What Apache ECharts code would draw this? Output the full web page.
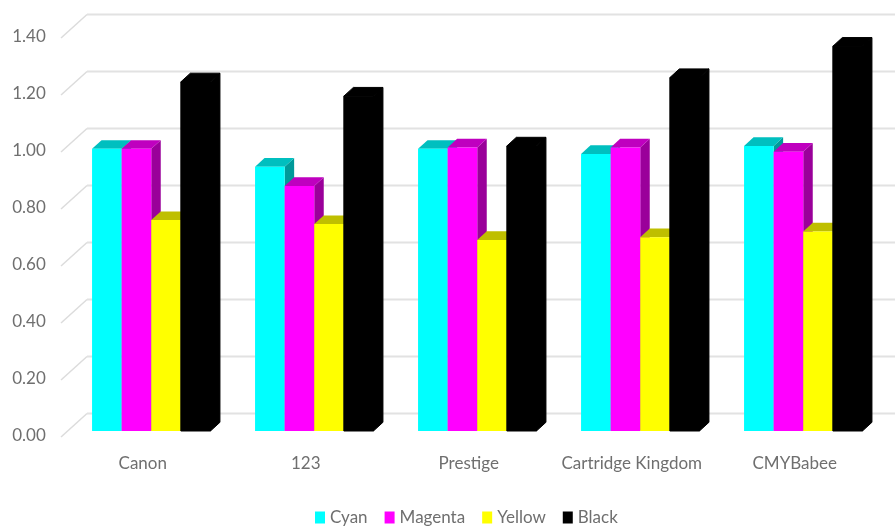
<!DOCTYPE html>
<html>
<head>
<meta charset="utf-8">
<style>html,body{margin:0;padding:0;background:#fff}#c{width:895px;height:526px;filter:blur(0.5px)}</style>
<script src="https://cdn.jsdelivr.net/npm/echarts@6/dist/echarts.min.js"></script>
</head>
<body>
<div id="c"></div>
<script>
var categories = ['Canon', '123', 'Prestige', 'Cartridge Kingdom', 'CMYBabee'];
var cyan = [0.99, 0.927, 0.99, 0.972, 1.0];
var magenta = [0.99, 0.86, 0.995, 0.995, 0.98];
var yellow = [0.74, 0.726, 0.67, 0.68, 0.70];
var black = [1.225, 1.175, 1.0, 1.24, 1.35];
var ticks = [0, 0.2, 0.4, 0.6, 0.8, 1.0, 1.2, 1.4];

var FONT = 'Lato';
var TEXT = '#6f6f6f';
var BAR_W = 29.6, DX = 9.5, DY = 8.7;

function poly(points, fill, seal) {
  return { type: 'polygon', shape: { points: points }, style: { fill: fill, stroke: seal ? fill : null, lineWidth: seal ? 1 : 0 } };
}
function barSeries(name, values, idx, front, top, side, seal) {
  return {
    name: name,
    type: 'custom',
    coordinateSystem: 'cartesian2d',
    itemStyle: { color: front },
    z: 5 + idx,
    clip: false,
    encode: { x: 0, y: 1 },
    data: values.map(function (v, i) { return [categories[i], v]; }),
    renderItem: function (params, api) {
      var base = api.coord([api.value(0), 0]);
      var head = api.coord([api.value(0), api.value(1)]);
      var x0 = base[0] - 2 * BAR_W + idx * BAR_W;
      var x1 = x0 + BAR_W;
      var yb = base[1], yt = head[1];
      return {
        type: 'group',
        children: [
          poly([[x1, yt], [x1 + DX, yt - DY], [x1 + DX, yb - DY], [x1, yb]], side, seal),
          poly([[x0, yt], [x0 + DX, yt - DY], [x1 + DX, yt - DY], [x1, yt]], top, seal),
          poly([[x0, yt], [x1, yt], [x1, yb], [x0, yb]], front, seal)
        ]
      };
    }
  };
}
var wallSeries = {
  name: 'wall',
  type: 'custom',
  coordinateSystem: 'cartesian2d',
  silent: true,
  z: 1,
  clip: false,
  encode: { x: 0, y: 1 },
  data: ticks.map(function (t) { return [categories[0], t]; }),
  renderItem: function (params, api) {
    var p = api.coord([api.value(0), api.value(1)]);
    var y = p[1];
    return {
      type: 'group',
      children: [
        { type: 'polyline', shape: { points: [[61, y + 6], [87, y - 17.5]] }, style: { stroke: '#dcdcdc', lineWidth: 1.5, fill: null } },
        { type: 'line', shape: { x1: 87, y1: y - 17.5, x2: 895, y2: y - 17.5 }, style: { stroke: '#e2e2e2', lineWidth: 2 } }
      ]
    };
  }
};

var chart = echarts.init(document.getElementById('c'), null, { renderer: 'canvas' });
chart.setOption({
  animation: false,
  backgroundColor: '#fff',
  legend: {
    data: ['Cyan', 'Magenta', 'Yellow', 'Black'],
    left: 315, top: 509,
    itemWidth: 10, itemHeight: 12, itemGap: 17, padding: 0,
    icon: 'rect',
    textStyle: { fontFamily: FONT, fontSize: 17, color: TEXT }
  },
  grid: { left: 69.75, top: 32, width: 815, height: 399, containLabel: false },
  xAxis: {
    type: 'category',
    data: categories,
    axisLine: { show: false },
    axisTick: { show: false },
    axisLabel: { interval: 0, fontFamily: FONT, fontSize: 17, color: TEXT, margin: 24, padding: [0, 17, 0, 0] }
  },
  yAxis: {
    type: 'value',
    min: 0, max: 1.4, interval: 0.2,
    axisLine: { show: false },
    axisTick: { show: false },
    splitLine: { show: false },
    axisLabel: {
      fontFamily: FONT, fontSize: 17, color: TEXT, margin: 24,
      verticalAlign: 'top', lineHeight: 10,
      formatter: function (v) { return v.toFixed(2); }
    }
  },
  series: [
    wallSeries,
    barSeries('Cyan', cyan, 0, '#00ffff', '#00bfbf', '#009a9a'),
    barSeries('Magenta', magenta, 1, '#ff00ff', '#bf00bf', '#9a009a'),
    barSeries('Yellow', yellow, 2, '#ffff00', '#bfbf00', '#9a9a00'),
    barSeries('Black', black, 3, '#000000', '#000000', '#000000', true)
  ]
});
</script>
</body>
</html>
